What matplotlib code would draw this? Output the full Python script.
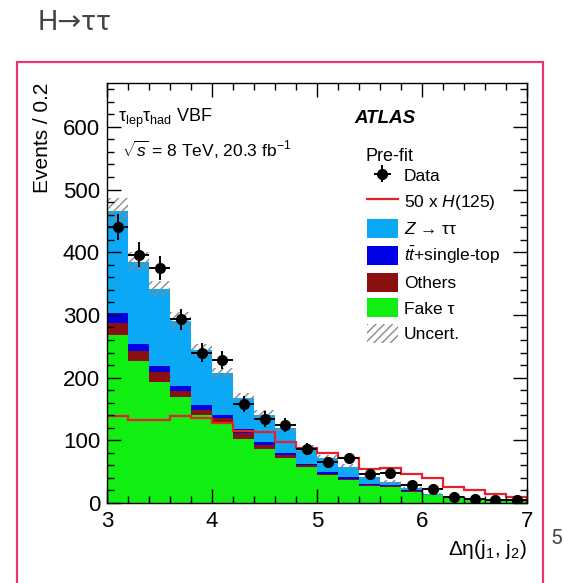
import matplotlib
matplotlib.use("Agg")
import matplotlib.pyplot as plt
from matplotlib.patches import Patch, Rectangle
from matplotlib.lines import Line2D
import numpy as np

# ---- data ----
edges = np.round(np.arange(3.0, 7.0001, 0.2), 1)

# cumulative stack tops, bottom to top
fake_top = [268, 226, 193, 169, 141, 127, 102, 86, 72, 58, 44, 37, 27, 26, 18, 12, 8, 5, 3, 3]
others_top = [287, 242, 209, 178, 149, 136, 111, 93, 77, 60, 47, 39, 28, 27, 19, 13, 8.5, 5.5, 3.5, 3.5]
ttbar_top = [303, 253, 219, 186, 156, 141, 118, 98, 80, 62, 50, 41, 30, 28, 20, 13.5, 9, 6, 4, 4]
ztt_top = [466, 385, 341, 291, 244, 207, 168, 141, 120, 88, 72, 58, 41, 33, 24, 14, 10, 6.5, 4.5, 4.5]
uncert = [20, 15, 13, 14, 10, 9, 8, 7, 6, 5, 4, 4, 3, 3, 2, 2, 1, 1, 1, 1]

data = [440, 396, 375, 293, 240, 228, 158, 134, 125, 86, 66, 71, 46, 48, 29, 22, 10, 7, 5, 5]
data_err = [21, 20, 19, 17, 15, 15, 13, 12, 11, 9, 8, 8, 7, 7, 5, 5, 3, 3, 2, 2]

signal50 = [139, 133, 133, 138, 136, 128, 115, 114, 97, 88, 79, 71, 54, 56, 47, 40, 25, 21, 15, 9]

# ---- style ----
plt.rcParams["font.family"] = ["Liberation Sans", "DejaVu Sans"]
plt.rcParams["mathtext.fontset"] = "custom"
plt.rcParams["mathtext.rm"] = "Liberation Sans"
plt.rcParams["mathtext.it"] = "Liberation Sans:italic"
plt.rcParams["mathtext.bf"] = "Liberation Sans:bold"
plt.rcParams["hatch.linewidth"] = 1.0

c_ztt = "#0aa8f5"
c_tt = "#0000e6"
c_oth = "#8c0f0f"
c_fake = "#11ee11"
c_sig = "#e8202a"
c_hatch = "#8a8a8a"

fig = plt.figure(figsize=(5.64, 5.83), dpi=100)
ax = fig.add_axes([107 / 564, 1 - 503 / 583, 420 / 564, 420 / 583])

# stacked backgrounds
ax.stairs(ztt_top, edges, baseline=ttbar_top, fill=True, color=c_ztt)
ax.stairs(ttbar_top, edges, baseline=others_top, fill=True, color=c_tt)
ax.stairs(others_top, edges, baseline=fake_top, fill=True, color=c_oth)
ax.stairs(fake_top, edges, baseline=0, fill=True, color=c_fake)

# uncertainty band
tot = np.array(ztt_top, dtype=float)
unc = np.array(uncert, dtype=float)
ax.stairs(tot + unc, edges, baseline=tot - unc, fill=True, facecolor="none",
          edgecolor=c_hatch, hatch="////", linewidth=0)

# signal x50
ax.stairs(signal50, edges, color=c_sig, linewidth=1.6)

# data
centers = 0.5 * (edges[:-1] + edges[1:])
eb = ax.errorbar(centers, data, yerr=data_err, xerr=0.1, fmt="o", color="black",
                 markersize=7, elinewidth=1.4, capsize=0, zorder=5)

ax.set_xlim(3, 7)
ax.set_ylim(0, 670)
ax.set_xticks([3, 4, 5, 6, 7])
ax.set_xticks(edges, minor=True)
ax.set_yticks(range(0, 700, 100))
ax.set_yticks(range(0, 680, 20), minor=True)
ax.tick_params(which="both", direction="in", top=True, right=True, labelsize=16,
               width=1.0, colors="black")
ax.tick_params(which="major", length=10)
ax.tick_params(which="minor", length=5)
ax.tick_params(axis="y", pad=5)
ax.tick_params(axis="x", pad=6)
for s in ax.spines.values():
    s.set_linewidth(1.0)

ax.set_ylabel("Events / 0.2", fontsize=15, loc="top", labelpad=8)
ax.set_xlabel("Δη(j$_1$, j$_2$)", fontsize=15, loc="right", labelpad=4)

# labels inside the plot
ax.text(0.025, 0.915, "τ$_{\\rm lep}$τ$_{\\rm had}$ VBF", transform=ax.transAxes,
        fontsize=13, va="center", ha="left")
ax.text(0.035, 0.84, r"$\sqrt{s}$ = 8 TeV, 20.3 fb$^{-1}$", transform=ax.transAxes,
        fontsize=12.5, va="center", ha="left")
ax.text(0.59, 0.915, "ATLAS", transform=ax.transAxes, fontsize=13.5,
        fontweight="bold", fontstyle="italic", va="center", ha="left")
ax.text(0.615, 0.825, "Pre-fit", transform=ax.transAxes, fontsize=13,
        va="center", ha="left")

handles = [
    eb,
    Line2D([], [], color=c_sig, linewidth=1.6),
    Patch(facecolor=c_ztt),
    Patch(facecolor=c_tt),
    Patch(facecolor=c_oth),
    Patch(facecolor=c_fake),
    Patch(facecolor="none", edgecolor=c_hatch, hatch="////", linewidth=0),
]
labels = ["Data", r"50 x $H$(125)", "$Z$ → ττ", r"$t\bar{t}$+single-top",
          "Others", "Fake τ", "Uncert."]
ax.legend(handles, labels, loc="upper left", bbox_to_anchor=(0.618, 0.802), frameon=False,
          fontsize=12.5, handlelength=1.8, handleheight=1.3, handletextpad=0.35,
          labelspacing=0.39, borderaxespad=0, borderpad=0)

# page elements around the chart
fig.text(38 / 564, 1 - 22 / 583, "H→ττ", fontsize=20.5, color="#454545",
         family=["Roboto", "DejaVu Sans"], va="center", ha="left")
fig.text(556 / 564, 1 - 539 / 583, "5", fontsize=15, color="#454545",
         family=["Roboto", "DejaVu Sans"], va="center", ha="center")
fig.add_artist(Rectangle((17 / 564, -0.02), 526 / 564, 0.02 + 1 - 62 / 583,
                         transform=fig.transFigure, fill=False,
                         edgecolor="#e8356d", linewidth=1.6))

fig.savefig("out.png", dpi=100)
